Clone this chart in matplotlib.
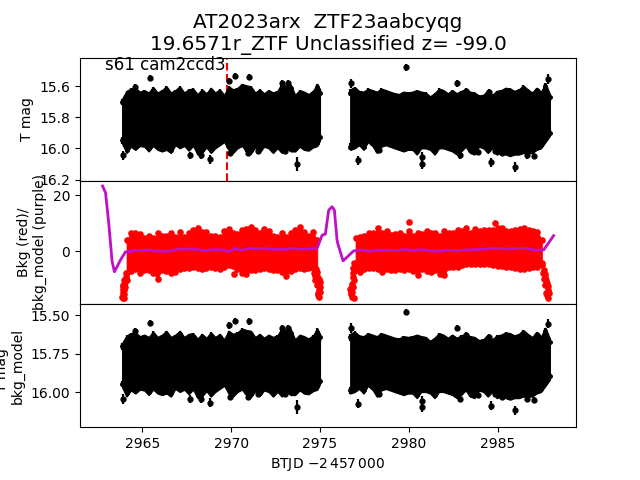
import matplotlib
matplotlib.use("Agg")
import matplotlib.pyplot as plt

# T mag band, first orbit half
t_a = [2963.85, 2964.10, 2964.35, 2964.60, 2964.85, 2965.10, 2965.35, 2965.60, 2965.85, 2966.10,
       2966.35, 2966.60, 2966.85, 2967.10, 2967.35, 2967.60, 2967.85, 2968.10, 2968.35, 2968.60,
       2968.85, 2969.10, 2969.35, 2969.60, 2969.85, 2970.10, 2970.35, 2970.60, 2970.85, 2971.10,
       2971.35, 2971.60, 2971.85, 2972.10, 2972.35, 2972.60, 2972.85, 2973.10, 2973.35, 2973.60,
       2973.85, 2974.10, 2974.35, 2974.60, 2974.85, 2975.00]
top_a = [15.68, 15.63, 15.615, 15.61, 15.635, 15.625, 15.64, 15.605, 15.64, 15.625,
         15.60, 15.64, 15.625, 15.60, 15.64, 15.62, 15.615, 15.65, 15.62, 15.645,
         15.61, 15.64, 15.62, 15.655, 15.60, 15.62, 15.61, 15.585, 15.595, 15.60,
         15.64, 15.62, 15.645, 15.625, 15.64, 15.63, 15.58, 15.60, 15.59, 15.655,
         15.625, 15.635, 15.65, 15.63, 15.585, 15.62]
bot_a = [15.97, 16.03, 15.99, 16.01, 15.985, 15.99, 16.02, 15.985, 16.01, 16.02,
         16.01, 16.03, 15.98, 16.00, 15.985, 16.015, 15.985, 16.04, 16.03, 15.995,
         16.03, 16.00, 15.98, 15.96, 16.01, 16.03, 16.00, 15.985, 16.02, 16.035,
         15.995, 16.025, 15.99, 16.00, 16.03, 16.00, 16.03, 16.00, 16.02, 16.02,
         15.99, 16.01, 16.015, 15.995, 15.985, 15.95]

# T mag band, second half
t_b = [2976.70, 2976.95, 2977.20, 2977.45, 2977.70, 2977.95, 2978.20, 2978.45, 2978.70, 2978.95,
       2979.20, 2979.45, 2979.70, 2979.95, 2980.20, 2980.45, 2980.70, 2980.95, 2981.20, 2981.45,
       2981.70, 2981.95, 2982.20, 2982.45, 2982.70, 2982.95, 2983.20, 2983.45, 2983.70, 2983.95,
       2984.20, 2984.45, 2984.70, 2984.95, 2985.20, 2985.45, 2985.70, 2985.95, 2986.20, 2986.45,
       2986.70, 2986.95, 2987.20, 2987.45, 2987.70, 2987.95]
top_b = [15.62, 15.605, 15.63, 15.635, 15.615, 15.625, 15.635, 15.615, 15.625, 15.635,
         15.645, 15.65, 15.635, 15.64, 15.635, 15.625, 15.635, 15.64, 15.665, 15.645,
         15.615, 15.625, 15.645, 15.625, 15.645, 15.63, 15.62, 15.635, 15.64, 15.66,
         15.655, 15.625, 15.655, 15.63, 15.625, 15.61, 15.615, 15.63, 15.62, 15.595,
         15.62, 15.64, 15.61, 15.635, 15.58, 15.65]
bot_b = [16.01, 16.00, 15.98, 16.01, 15.96, 15.985, 16.03, 15.99, 15.98, 15.99,
         16.00, 16.01, 16.02, 16.01, 16.01, 16.04, 16.00, 16.00, 16.01, 16.04,
         16.00, 16.00, 16.01, 16.02, 16.04, 16.02, 15.99, 16.03, 16.04, 15.99,
         16.00, 16.03, 16.00, 16.04, 16.03, 16.04, 16.05, 16.04, 16.04, 16.03,
         16.03, 16.03, 16.01, 16.00, 15.96, 15.92]

# points that stick out of the band
out_t = [2965.41, 2970.20, 2970.99, 2969.90, 2964.60, 2968.79, 2973.69, 2963.93, 2967.70, 2968.27,
         2969.95, 2972.87, 2973.20, 2979.87, 2976.77, 2977.12, 2980.73, 2980.75, 2978.30, 2982.70,
         2983.24, 2984.50, 2987.24, 2987.82, 2984.61, 2985.96, 2984.88, 2985.23, 2986.66, 2987.08,
         2982.90, 2983.88, 2970.95, 2971.50, 2973.00]
out_m = [15.55, 15.534, 15.54, 15.566, 15.605, 16.07, 16.097, 16.045, 16.045, 16.045,
         16.03, 15.58, 15.58, 15.48, 15.583, 16.076, 16.10, 16.056, 16.01, 15.583,
         15.63, 15.64, 15.63, 15.555, 16.09, 16.12, 16.015, 16.03, 16.045, 16.05,
         16.045, 16.02, 16.03, 16.015, 16.015]
out_e = [0.02, 0.02, 0.02, 0.02, 0.02, 0.03, 0.045, 0.03, 0.025, 0.025,
         0.02, 0.02, 0.02, 0.02, 0.03, 0.03, 0.03, 0.03, 0.02, 0.02,
         0.02, 0.02, 0.02, 0.03, 0.03, 0.03, 0.02, 0.02, 0.02, 0.02,
         0.02, 0.02, 0.02, 0.02, 0.02]

# background flux band
bt_a = [2964.10, 2964.35, 2964.60, 2964.85, 2965.10, 2965.35, 2965.60, 2965.85, 2966.10, 2966.35,
        2966.60, 2966.85, 2967.10, 2967.35, 2967.60, 2967.85, 2968.10, 2968.35, 2968.60, 2968.85,
        2969.10, 2969.35, 2969.60, 2969.85, 2970.10, 2970.35, 2970.60, 2970.85, 2971.10, 2971.35,
        2971.60, 2971.85, 2972.10, 2972.35, 2972.60, 2972.85, 2973.10, 2973.35, 2973.60, 2973.85,
        2974.10, 2974.35, 2974.60, 2974.85]
bup_a = [4.0, 6.3, 6.5, 6.0, 4.5, 5.5, 4.5, 6.3, 5.5, 5.5,
         6.3, 5.0, 6.8, 5.0, 6.5, 7.5, 8.2, 6.8, 6.8, 5.5,
         5.2, 5.0, 7.0, 7.8, 6.3, 6.0, 7.5, 8.0, 8.7, 7.5,
         6.5, 8.0, 7.0, 5.5, 5.0, 6.3, 5.0, 6.5, 7.5, 8.5,
         6.8, 5.5, 6.8, 4.0]
blo_a = [-10.4, -7.2, -6.4, -7.9, -6.8, -6.8, -8.0, -9.8, -6.8, -7.2,
         -7.9, -7.6, -6.5, -6.2, -6.0, -5.8, -6.0, -6.5, -6.2, -5.8,
         -6.0, -6.3, -5.6, -5.0, -5.4, -6.4, -7.8, -8.2, -6.8, -6.8,
         -6.3, -6.2, -6.4, -6.8, -6.8, -7.5, -8.9, -7.0, -6.3, -6.0,
         -6.3, -6.2, -6.2, -7.4]
bt_b = [2977.00, 2977.25, 2977.50, 2977.75, 2978.00, 2978.25, 2978.50, 2978.75, 2979.00, 2979.25,
        2979.50, 2979.75, 2980.00, 2980.25, 2980.50, 2980.75, 2981.00, 2981.25, 2981.50, 2981.75,
        2982.00, 2982.25, 2982.50, 2982.75, 2983.00, 2983.25, 2983.50, 2983.75, 2984.00, 2984.25,
        2984.50, 2984.75, 2985.00, 2985.25, 2985.50, 2985.75, 2986.00, 2986.25, 2986.50, 2986.75,
        2987.00, 2987.25, 2987.50]
bup_b = [4.5, 5.0, 5.5, 6.3, 6.3, 8.1, 6.3, 7.3, 5.7, 6.0,
         6.3, 5.5, 7.3, 5.5, 6.6, 6.0, 7.3, 6.5, 6.3, 5.5,
         7.0, 6.3, 6.5, 7.5, 7.0, 8.1, 6.5, 7.9, 7.0, 7.5,
         7.5, 7.5, 8.3, 8.1, 7.0, 7.0, 7.5, 7.8, 8.3, 7.5,
         7.0, 6.9, 4.0]
blo_b = [-5.5, -7.6, -6.3, -6.2, -6.2, -6.5, -7.6, -6.5, -6.8, -6.8,
         -6.5, -6.8, -6.5, -7.0, -8.6, -6.5, -7.0, -7.4, -6.6, -8.2,
         -8.6, -5.8, -5.8, -5.6, -5.0, -4.6, -4.8, -4.6, -4.8, -4.6,
         -4.7, -5.0, -5.3, -5.5, -5.8, -5.8, -6.2, -6.5, -6.5, -6.0,
         -5.8, -5.6, -5.0]

# steep tails at the orbit ends plus a few lone background points
tail_t = [2963.86, 2963.91, 2963.93, 2963.98, 2964.05, 2963.88, 2963.95, 2964.00, 2964.02, 2963.90,
          2963.97, 2964.08, 2963.92, 2963.96,
          2974.65, 2974.74, 2974.83, 2974.93, 2974.87, 2974.95, 2975.02, 2974.98, 2974.80, 2974.90,
          2974.78, 2974.85, 2975.00, 2974.96, 2974.72, 2974.90,
          2976.81, 2976.83, 2976.71, 2976.82, 2976.86, 2976.95, 2976.93, 2976.76, 2976.88, 2976.78,
          2976.90, 2976.85, 2976.74, 2976.92, 2976.88,
          2987.50, 2987.60, 2987.70, 2987.78, 2987.82, 2987.80, 2987.85, 2987.65, 2987.72, 2987.55,
          2987.75, 2987.88, 2987.68, 2987.62, 2987.84,
          2980.03, 2970.14, 2984.88]
tail_b = [-16.5, -15.1, -12.7, -10.4, -9.1, -16.9, -14.0, -13.0, -11.0, -12.0,
          -16.6, -8.0, -13.8, -15.5,
          -7.9, -10.4, -12.1, -13.9, -15.7, -16.5, -12.7, -11.0, -9.5, -14.8,
          -6.5, -9.0, -14.5, -9.8, -8.8, -11.0,
          -16.5, -14.7, -13.4, -11.7, -9.3, -6.8, -4.4, -15.5, -8.0, -12.6,
          -16.6, -12.8, -14.5, -10.2, -6.2,
          -4.4, -6.8, -9.1, -11.5, -13.9, -15.7, -16.9, -12.1, -14.8, -7.8,
          -10.2, -15.0, -8.2, -9.8, -12.6,
          10.2, -8.2, 9.9]

# smooth background model (purple)
model_t = [2962.75, 2962.92, 2963.10, 2963.29, 2963.42, 2963.76, 2964.04, 2964.20, 2964.50, 2965.00,
           2965.30, 2965.70, 2966.50, 2967.00, 2967.50, 2968.00, 2968.40, 2969.00, 2969.50, 2969.90,
           2970.20, 2970.50, 2971.00, 2971.50, 2971.80, 2972.20, 2972.70, 2973.00, 2973.50, 2974.00,
           2974.50, 2974.84, 2975.12, 2975.30, 2975.49, 2975.68, 2975.81, 2975.96, 2976.00, 2976.30,
           2976.90, 2977.00, 2977.30, 2977.80, 2978.20, 2978.80, 2979.30, 2979.80, 2980.20, 2980.80,
           2981.30, 2981.80, 2982.20, 2982.70, 2983.20, 2983.80, 2984.30, 2984.60, 2985.00, 2985.50,
           2985.90, 2986.50, 2986.80, 2987.20, 2987.60, 2988.16]
model_b = [23.2, 20.8, 9.9, -3.8, -7.4, -3.2, -0.3, -0.3, 0.2, 0.2,
           0.4, 0.0, -0.1, 0.7, 0.7, 0.7, 0.1, 0.5, 0.4, -0.2,
           1.0, 0.2, 1.0, 0.7, 1.0, 0.6, 0.6, 0.6, 0.9, 0.6,
           0.8, 1.0, 5.7, 6.0, 14.6, 15.8, 14.6, 3.9, 2.7, -3.5,
           0.1, 0.1, 0.4, -0.1, 0.3, 0.3, 0.1, 0.6, 0.2, 0.5,
           0.0, 0.0, 0.3, 0.0, 0.4, 0.5, 0.7, 1.0, 0.9, 0.7,
           0.8, 1.0, 0.7, 0.3, 0.4, 5.5]


def draw_mag(ax):
    # the dense light curve is a solid black block with spiky edges
    for tt, up, lo in [(t_a, top_a, bot_a), (t_b, top_b, bot_b)]:
        ax.fill_between(tt, up, lo, color='k', lw=0.8, zorder=3)
        ax.errorbar(tt, [u + 0.022 for u in up], yerr=0.022, fmt='k.', ms=5, elinewidth=1.6, zorder=3)
        ax.errorbar(tt, [l - 0.022 for l in lo], yerr=0.022, fmt='k.', ms=5, elinewidth=1.6, zorder=3)
    ax.errorbar(out_t, out_m, yerr=out_e, fmt='k.', ms=7, elinewidth=1.6, zorder=3)


fig, axs = plt.subplots(3, 1, sharex=True)
fig.subplots_adjust(hspace=0)

# top panel
axs[0].axvline(2969.77, color='r', ls='--', lw=1.5, zorder=1)
draw_mag(axs[0])
axs[0].set_ylim(16.208, 15.417)
axs[0].set_ylabel('T mag')
axs[0].text(2962.9, 15.494, 's61 cam2ccd3', fontsize=12)
axs[0].set_title('AT2023arx  ZTF23aabcyqg\n19.6571r_ZTF Unclassified z= -99.0', fontsize=14.4, pad=5.3)

# middle panel
axs[1].fill_between(bt_a, bup_a, blo_a, color='r', lw=0.5)
axs[1].fill_between(bt_b, bup_b, blo_b, color='r', lw=0.5)
for tt, bb in [(bt_a, bup_a), (bt_a, blo_a), (bt_b, bup_b), (bt_b, blo_b), (tail_t, tail_b)]:
    axs[1].plot(tt, bb, 'r.', ls='none', ms=7.5)
axs[1].plot(model_t, model_b, color='#bf10c8', lw=2, zorder=4)
axs[1].set_ylim(-18.9, 25.07)
axs[1].set_yticks([0, 20])
axs[1].set_ylabel('Bkg (red)/\nbkg_model (purple)')

# bottom panel
draw_mag(axs[2])
axs[2].set_ylim(16.229, 15.426)
axs[2].set_yticks([15.5, 15.75, 16.0])
axs[2].set_yticklabels(['15.50', '15.75', '16.00'])
axs[2].set_ylabel('T mag  \nbkg_model')

axs[2].set_xlim(2961.48, 2989.42)
axs[2].set_xticks([2965, 2970, 2975, 2980, 2985])
axs[2].set_xlabel(r'BTJD $-2\,457\,000$')

fig.savefig('out.png', dpi=100)
